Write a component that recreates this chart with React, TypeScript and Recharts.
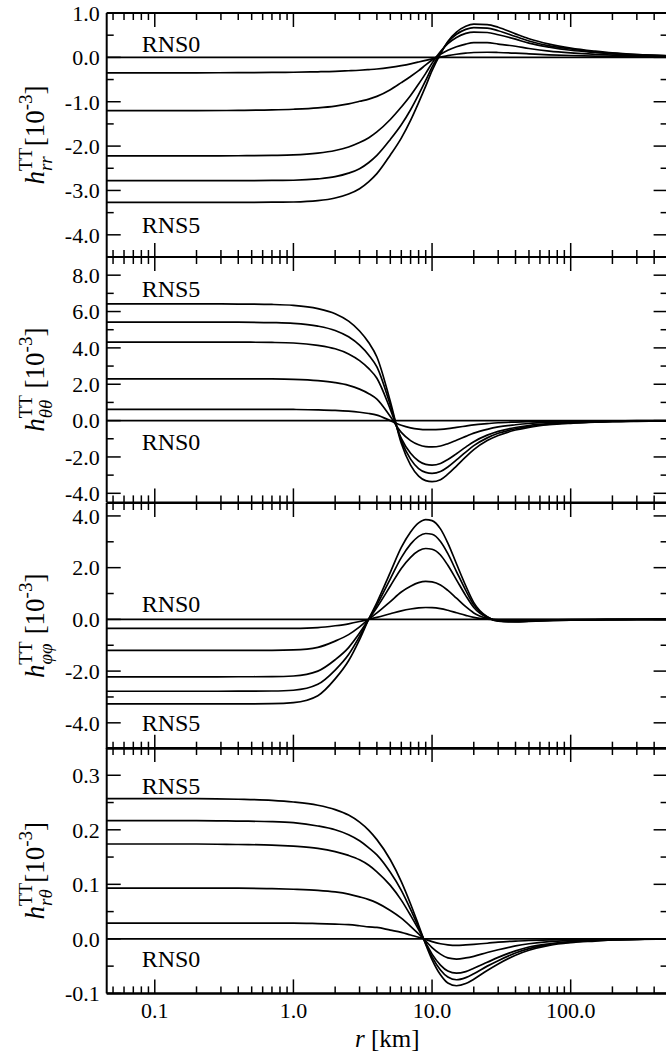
import React from 'react';
import { LineChart, Line, XAxis, YAxis, ReferenceDot } from 'recharts';

// ---------- data ----------
const R_KM = [0.045, 0.1, 0.2, 0.4, 0.7, 1, 1.5, 2, 2.5, 3, 3.5, 4, 5, 6, 7, 8, 9, 10, 11.5, 13, 15, 17.5, 20, 25, 30, 40, 50, 70, 100, 150, 200, 300, 500];

const X_MAJOR = [0.1, 1, 10, 100];
const X_MINOR = [0.05, 0.06, 0.07, 0.08, 0.09, 0.2, 0.3, 0.4, 0.5, 0.6, 0.7, 0.8, 0.9, 2, 3, 4, 5, 6, 7, 8, 9, 20, 30, 40, 50, 60, 70, 80, 90, 200, 300, 400];

// h_rr
const RR_RNS1 = [-0.35, -0.35, -0.348, -0.345, -0.34, -0.335, -0.325, -0.315, -0.302, -0.29, -0.276, -0.262, -0.225, -0.185, -0.145, -0.105, -0.068, -0.035, 0.005, 0.04, 0.07, 0.095, 0.11, 0.115, 0.11, 0.095, 0.08, 0.058, 0.042, 0.028, 0.02, 0.013, 0.008];
const RR_RNS2 = [-1.2, -1.2, -1.2, -1.195, -1.185, -1.17, -1.14, -1.1, -1.05, -0.99, -0.94, -0.88, -0.73, -0.57, -0.43, -0.3, -0.17, -0.06, 0.07, 0.16, 0.24, 0.3, 0.33, 0.33, 0.3, 0.25, 0.2, 0.14, 0.1, 0.07, 0.05, 0.03, 0.02];
const RR_RNS3 = [-2.22, -2.22, -2.22, -2.218, -2.21, -2.2, -2.16, -2.1, -2.02, -1.92, -1.81, -1.68, -1.4, -1.12, -0.86, -0.6, -0.36, -0.13, 0.13, 0.31, 0.45, 0.54, 0.57, 0.56, 0.51, 0.41, 0.32, 0.23, 0.16, 0.11, 0.08, 0.05, 0.03];
const RR_RNS4 = [-2.78, -2.78, -2.78, -2.78, -2.775, -2.77, -2.74, -2.69, -2.61, -2.51, -2.37, -2.21, -1.85, -1.52, -1.18, -0.84, -0.52, -0.22, 0.1, 0.34, 0.52, 0.63, 0.67, 0.66, 0.6, 0.47, 0.37, 0.26, 0.19, 0.12, 0.09, 0.06, 0.035];
const RR_RNS5 = [-3.27, -3.27, -3.27, -3.27, -3.265, -3.26, -3.23, -3.17, -3.08, -2.96, -2.8, -2.62, -2.2, -1.82, -1.42, -1.02, -0.65, -0.3, 0.08, 0.36, 0.57, 0.7, 0.75, 0.74, 0.68, 0.53, 0.42, 0.3, 0.21, 0.14, 0.1, 0.065, 0.04];
const RR_Y_MAJOR = [-4, -3, -2, -1, 0, 1];
const RR_Y_MINOR = [-3.5, -2.5, -1.5, -0.5, 0.5];

// h_thth
const TT_RNS1 = [0.62, 0.62, 0.62, 0.619, 0.617, 0.612, 0.595, 0.565, 0.52, 0.46, 0.39, 0.3, 0.0, -0.26, -0.4, -0.47, -0.5, -0.5, -0.48, -0.44, -0.37, -0.3, -0.24, -0.17, -0.12, -0.08, -0.055, -0.035, -0.022, -0.014, -0.01, -0.006, -0.004];
const TT_RNS2 = [2.3, 2.3, 2.3, 2.298, 2.29, 2.27, 2.2, 2.09, 1.94, 1.73, 1.48, 1.18, 0.22, -0.65, -1.1, -1.33, -1.43, -1.45, -1.4, -1.27, -1.08, -0.87, -0.69, -0.48, -0.35, -0.23, -0.16, -0.1, -0.065, -0.04, -0.027, -0.018, -0.01];
const TT_RNS3 = [4.32, 4.32, 4.32, 4.315, 4.3, 4.27, 4.14, 3.95, 3.67, 3.3, 2.86, 2.33, 0.62, -0.98, -1.8, -2.22, -2.41, -2.45, -2.36, -2.14, -1.82, -1.46, -1.16, -0.8, -0.59, -0.38, -0.27, -0.17, -0.11, -0.07, -0.045, -0.03, -0.015];
const TT_RNS4 = [5.42, 5.42, 5.42, 5.413, 5.39, 5.35, 5.2, 4.96, 4.61, 4.15, 3.6, 2.95, 0.85, -1.1, -2.12, -2.64, -2.85, -2.9, -2.8, -2.55, -2.16, -1.73, -1.38, -0.95, -0.7, -0.45, -0.32, -0.2, -0.13, -0.08, -0.05, -0.03, -0.02];
const TT_RNS5 = [6.42, 6.42, 6.42, 6.412, 6.39, 6.34, 6.16, 5.88, 5.47, 4.93, 4.28, 3.5, 1.05, -1.25, -2.45, -3.05, -3.3, -3.36, -3.25, -2.95, -2.5, -2.0, -1.6, -1.1, -0.82, -0.52, -0.37, -0.23, -0.15, -0.09, -0.06, -0.04, -0.02];
const TT_Y_MAJOR = [-4, -2, 0, 2, 4, 6, 8];
const TT_Y_MINOR = [-3, -1, 1, 3, 5, 7];

// h_phph
const PP_RNS1 = [-0.35, -0.35, -0.35, -0.35, -0.349, -0.345, -0.316, -0.246, -0.171, -0.083, 0.002, 0.077, 0.217, 0.331, 0.402, 0.444, 0.459, 0.455, 0.417, 0.351, 0.256, 0.155, 0.077, 0.012, -0.008, -0.012, -0.01, -0.006, -0.004, -0.002, -0.001, 0, 0];
const PP_RNS2 = [-1.2, -1.2, -1.2, -1.199, -1.196, -1.18, -1.08, -0.84, -0.59, -0.29, 0.01, 0.25, 0.69, 1.06, 1.28, 1.42, 1.47, 1.45, 1.33, 1.12, 0.82, 0.49, 0.25, 0.04, -0.027, -0.038, -0.03, -0.019, -0.011, -0.008, -0.004, -0.002, 0];
const PP_RNS3 = [-2.22, -2.22, -2.22, -2.219, -2.214, -2.19, -2.0, -1.56, -1.09, -0.53, 0.01, 0.46, 1.29, 1.97, 2.4, 2.65, 2.74, 2.71, 2.49, 2.09, 1.53, 0.92, 0.46, 0.07, -0.05, -0.071, -0.057, -0.036, -0.021, -0.014, -0.007, -0.004, 0];
const PP_RNS4 = [-2.78, -2.78, -2.78, -2.778, -2.77, -2.74, -2.51, -1.96, -1.36, -0.66, 0.02, 0.56, 1.57, 2.39, 2.91, 3.21, 3.32, 3.29, 3.01, 2.54, 1.85, 1.12, 0.56, 0.09, -0.06, -0.086, -0.069, -0.043, -0.026, -0.017, -0.009, -0.004, 0];
const PP_RNS5 = [-3.27, -3.27, -3.27, -3.268, -3.26, -3.22, -2.95, -2.3, -1.6, -0.78, 0.02, 0.65, 1.82, 2.78, 3.38, 3.73, 3.86, 3.82, 3.5, 2.95, 2.15, 1.3, 0.65, 0.1, -0.07, -0.1, -0.08, -0.05, -0.03, -0.02, -0.01, -0.005, 0];
const PP_Y_MAJOR = [-4, -2, 0, 2, 4];
const PP_Y_MINOR = [-3, -1, 1, 3];

// h_rth
const RT_RNS1 = [0.029, 0.029, 0.029, 0.029, 0.029, 0.029, 0.028, 0.027, 0.026, 0.024, 0.022, 0.021, 0.016, 0.012, 0.007, 0.003, -0.001, -0.005, -0.009, -0.011, -0.012, -0.011, -0.01, -0.008, -0.006, -0.004, -0.003, -0.002, -0.001, -0.001, 0, 0, 0];
const RT_RNS2 = [0.093, 0.093, 0.093, 0.093, 0.092, 0.091, 0.089, 0.086, 0.082, 0.077, 0.072, 0.066, 0.052, 0.038, 0.023, 0.009, -0.004, -0.016, -0.028, -0.035, -0.037, -0.035, -0.032, -0.025, -0.02, -0.013, -0.009, -0.005, -0.003, -0.002, -0.001, 0, 0];
const RT_RNS3 = [0.174, 0.174, 0.174, 0.173, 0.172, 0.17, 0.166, 0.16, 0.153, 0.145, 0.135, 0.123, 0.098, 0.071, 0.043, 0.017, -0.007, -0.028, -0.048, -0.059, -0.063, -0.06, -0.054, -0.043, -0.034, -0.022, -0.015, -0.009, -0.005, -0.003, -0.0015, -0.001, 0];
const RT_RNS4 = [0.217, 0.217, 0.217, 0.216, 0.215, 0.213, 0.207, 0.2, 0.191, 0.18, 0.167, 0.154, 0.122, 0.089, 0.054, 0.021, -0.009, -0.033, -0.057, -0.07, -0.075, -0.071, -0.064, -0.05, -0.04, -0.026, -0.018, -0.01, -0.006, -0.003, -0.002, -0.001, 0];
const RT_RNS5 = [0.257, 0.257, 0.257, 0.256, 0.254, 0.251, 0.245, 0.237, 0.227, 0.214, 0.199, 0.182, 0.145, 0.105, 0.064, 0.025, -0.01, -0.038, -0.066, -0.081, -0.086, -0.082, -0.074, -0.058, -0.046, -0.03, -0.021, -0.012, -0.007, -0.004, -0.002, -0.001, 0];
const RT_Y_MAJOR = [-0.1, 0, 0.1, 0.2, 0.3];
const RT_Y_MINOR = [-0.05, 0.05, 0.15, 0.25];

// ---------- style / layout ----------
const FONT = '"Liberation Serif", "Times New Roman", serif';
const X_DOMAIN = [0.045, 500];
const CHART_W = 680;
const Y_AXIS_W = 106.7;
const RIGHT_M = 12.4;
const THIN = 0.01;
const AXIS = { stroke: '#000', strokeWidth: 2 };
const TL = { stroke: '#000', strokeWidth: 1.5 };
const TICK_TEXT = { fill: '#000', fontSize: 22, fontFamily: FONT };
const fmt = (v: number) => v.toFixed(1);
const TITLE_X = 44;

const EmptyTick = () => null;

function YTitle({ midY, sub, gap, back }: any) {
  return (
    <text transform={`rotate(-90 ${TITLE_X} ${midY})`} x={TITLE_X} y={midY} textAnchor="middle" fontFamily={FONT} fontSize={27} fill="#000">
      <tspan fontStyle="italic">h</tspan>
      <tspan fontSize={19} dy={-12}>TT</tspan>
      <tspan fontSize={19} fontStyle="italic" dx={-23.2} dy={20}>{sub}</tspan>
      <tspan dx={back} dy={-8}>{gap ? '\u00A0[10' : '[10'}</tspan>
      <tspan fontSize={19} dy={-12}>-3</tspan>
      <tspan dy={12}>]</tspan>
    </text>
  );
}

function XTitle({ baseY }: any) {
  return (
    <text x={387.2} y={baseY} textAnchor="middle" fontFamily={FONT} fontSize={25} fill="#000">
      <tspan fontStyle="italic">r</tspan>
      <tspan>{'\u00A0[km]'}</tspan>
    </text>
  );
}

function Panel({ top, plotH, yDomain, yMajor, yMinor, series, sub, gap, back, labels, showX }: any) {
  const data = R_KM.map((r, i) => {
    const row: any = { r, s0: 0 };
    series.forEach((s: number[], k: number) => { row['s' + (k + 1)] = s[i]; });
    return row;
  });
  const mt = 20;
  const mb = showX ? 5 : 20;
  const xh = showX ? 60 : 0;
  const height = mt + plotH + xh + mb;
  const keys = ['s0', 's1', 's2', 's3', 's4', 's5'];
  const common = { type: 'number' as const, scale: 'log' as const, domain: X_DOMAIN, allowDataOverflow: true, interval: 0 as const };
  const ycommon = { type: 'number' as const, domain: yDomain, allowDataOverflow: true, interval: 0 as const };
  return (
    <div style={{ position: 'absolute', left: 0, top: top - mt }}>
      <LineChart width={CHART_W} height={height} data={data} margin={{ top: mt, right: RIGHT_M, bottom: mb, left: 0 }}>
        <XAxis xAxisId="xa" dataKey="r" {...common} ticks={X_MAJOR} hide={!showX} height={xh} orientation="bottom"
          tickLine={false} axisLine={AXIS} tickSize={0} tickMargin={9} tick={TICK_TEXT} tickFormatter={fmt}
          label={showX ? <XTitle baseY={mt + plotH + 54} /> : undefined} />
        <XAxis xAxisId="xbM" dataKey="r" {...common} ticks={X_MAJOR} orientation="bottom" mirror height={THIN} tick={<EmptyTick />} tickSize={14} tickLine={TL} axisLine={AXIS} />
        <XAxis xAxisId="xbm" dataKey="r" {...common} ticks={X_MINOR} orientation="bottom" mirror height={THIN} tick={<EmptyTick />} tickSize={7} tickLine={TL} axisLine={false} />
        <XAxis xAxisId="xtM" dataKey="r" {...common} ticks={X_MAJOR} orientation="top" mirror height={THIN} tick={<EmptyTick />} tickSize={14} tickLine={TL} axisLine={AXIS} />
        <XAxis xAxisId="xtm" dataKey="r" {...common} ticks={X_MINOR} orientation="top" mirror height={THIN} tick={<EmptyTick />} tickSize={7} tickLine={TL} axisLine={false} />
        <YAxis yAxisId="ya" {...ycommon} ticks={yMajor} orientation="left" width={Y_AXIS_W} tickLine={false} axisLine={AXIS}
          tickSize={0} tickMargin={7} tick={TICK_TEXT} tickFormatter={fmt}
          label={<YTitle midY={mt + plotH / 2} sub={sub} gap={gap} back={back} />} />
        <YAxis yAxisId="ylM" {...ycommon} ticks={yMajor} orientation="left" mirror width={THIN} tick={<EmptyTick />} tickSize={14} tickLine={TL} axisLine={false} />
        <YAxis yAxisId="ylm" {...ycommon} ticks={yMinor} orientation="left" mirror width={THIN} tick={<EmptyTick />} tickSize={7} tickLine={TL} axisLine={false} />
        <YAxis yAxisId="yrM" {...ycommon} ticks={yMajor} orientation="right" mirror width={THIN} tick={<EmptyTick />} tickSize={14} tickLine={TL} axisLine={AXIS} />
        <YAxis yAxisId="yrm" {...ycommon} ticks={yMinor} orientation="right" mirror width={THIN} tick={<EmptyTick />} tickSize={7} tickLine={TL} axisLine={false} />
        {keys.map((k) => (
          <Line key={k} xAxisId="xa" yAxisId="ya" dataKey={k} type="monotone" dot={false} stroke="#000" strokeWidth={1.7} isAnimationActive={false} />
        ))}
        {labels.map((l: any) => (
          <ReferenceDot key={l.text} xAxisId="xa" yAxisId="ya" x={l.x} y={l.y} r={1}
            shape={(p: any) => (
              <text x={p.cx} y={p.cy} fontFamily={FONT} fontSize={24} fill="#000">{l.text}</text>
            )} />
        ))}
      </LineChart>
    </div>
  );
}

export default function App() {
  return (
    <div style={{ position: 'fixed', left: 0, top: 0, width: 666, height: 1059, overflow: 'hidden', background: '#fff' }}>
      <Panel top={13.3} plotH={244} yDomain={[-4.5, 1]} yMajor={RR_Y_MAJOR} yMinor={RR_Y_MINOR}
        series={[RR_RNS1, RR_RNS2, RR_RNS3, RR_RNS4, RR_RNS5]} sub="rr" gap={false} back={10}
        labels={[{ text: 'RNS0', x: 0.0804, y: 0.128 }, { text: 'RNS5', x: 0.0804, y: -3.953 }]} />
      <Panel top={257.3} plotH={245.4} yDomain={[-4.5, 9]} yMajor={TT_Y_MAJOR} yMinor={TT_Y_MINOR}
        series={[TT_RNS1, TT_RNS2, TT_RNS3, TT_RNS4, TT_RNS5]} sub={'\u03B8\u03B8'} gap={true} back={4.5}
        labels={[{ text: 'RNS5', x: 0.0804, y: 6.816 }, { text: 'RNS0', x: 0.0804, y: -1.6 }]} />
      <Panel top={502.7} plotH={245.7} yDomain={[-5, 4.5]} yMajor={PP_Y_MAJOR} yMinor={PP_Y_MINOR}
        series={[PP_RNS1, PP_RNS2, PP_RNS3, PP_RNS4, PP_RNS5]} sub={'\u03C6\u03C6'} gap={true} back={2.5}
        labels={[{ text: 'RNS0', x: 0.0804, y: 0.272 }, { text: 'RNS5', x: 0.0804, y: -4.332 }]} />
      <Panel top={748.4} plotH={245.4} yDomain={[-0.1, 0.35]} yMajor={RT_Y_MAJOR} yMinor={RT_Y_MINOR}
        series={[RT_RNS1, RT_RNS2, RT_RNS3, RT_RNS4, RT_RNS5]} sub={'r\u03B8'} gap={false} back={6.5} showX
        labels={[{ text: 'RNS5', x: 0.0804, y: 0.265 }, { text: 'RNS0', x: 0.0804, y: -0.051 }]} />
    </div>
  );
}
